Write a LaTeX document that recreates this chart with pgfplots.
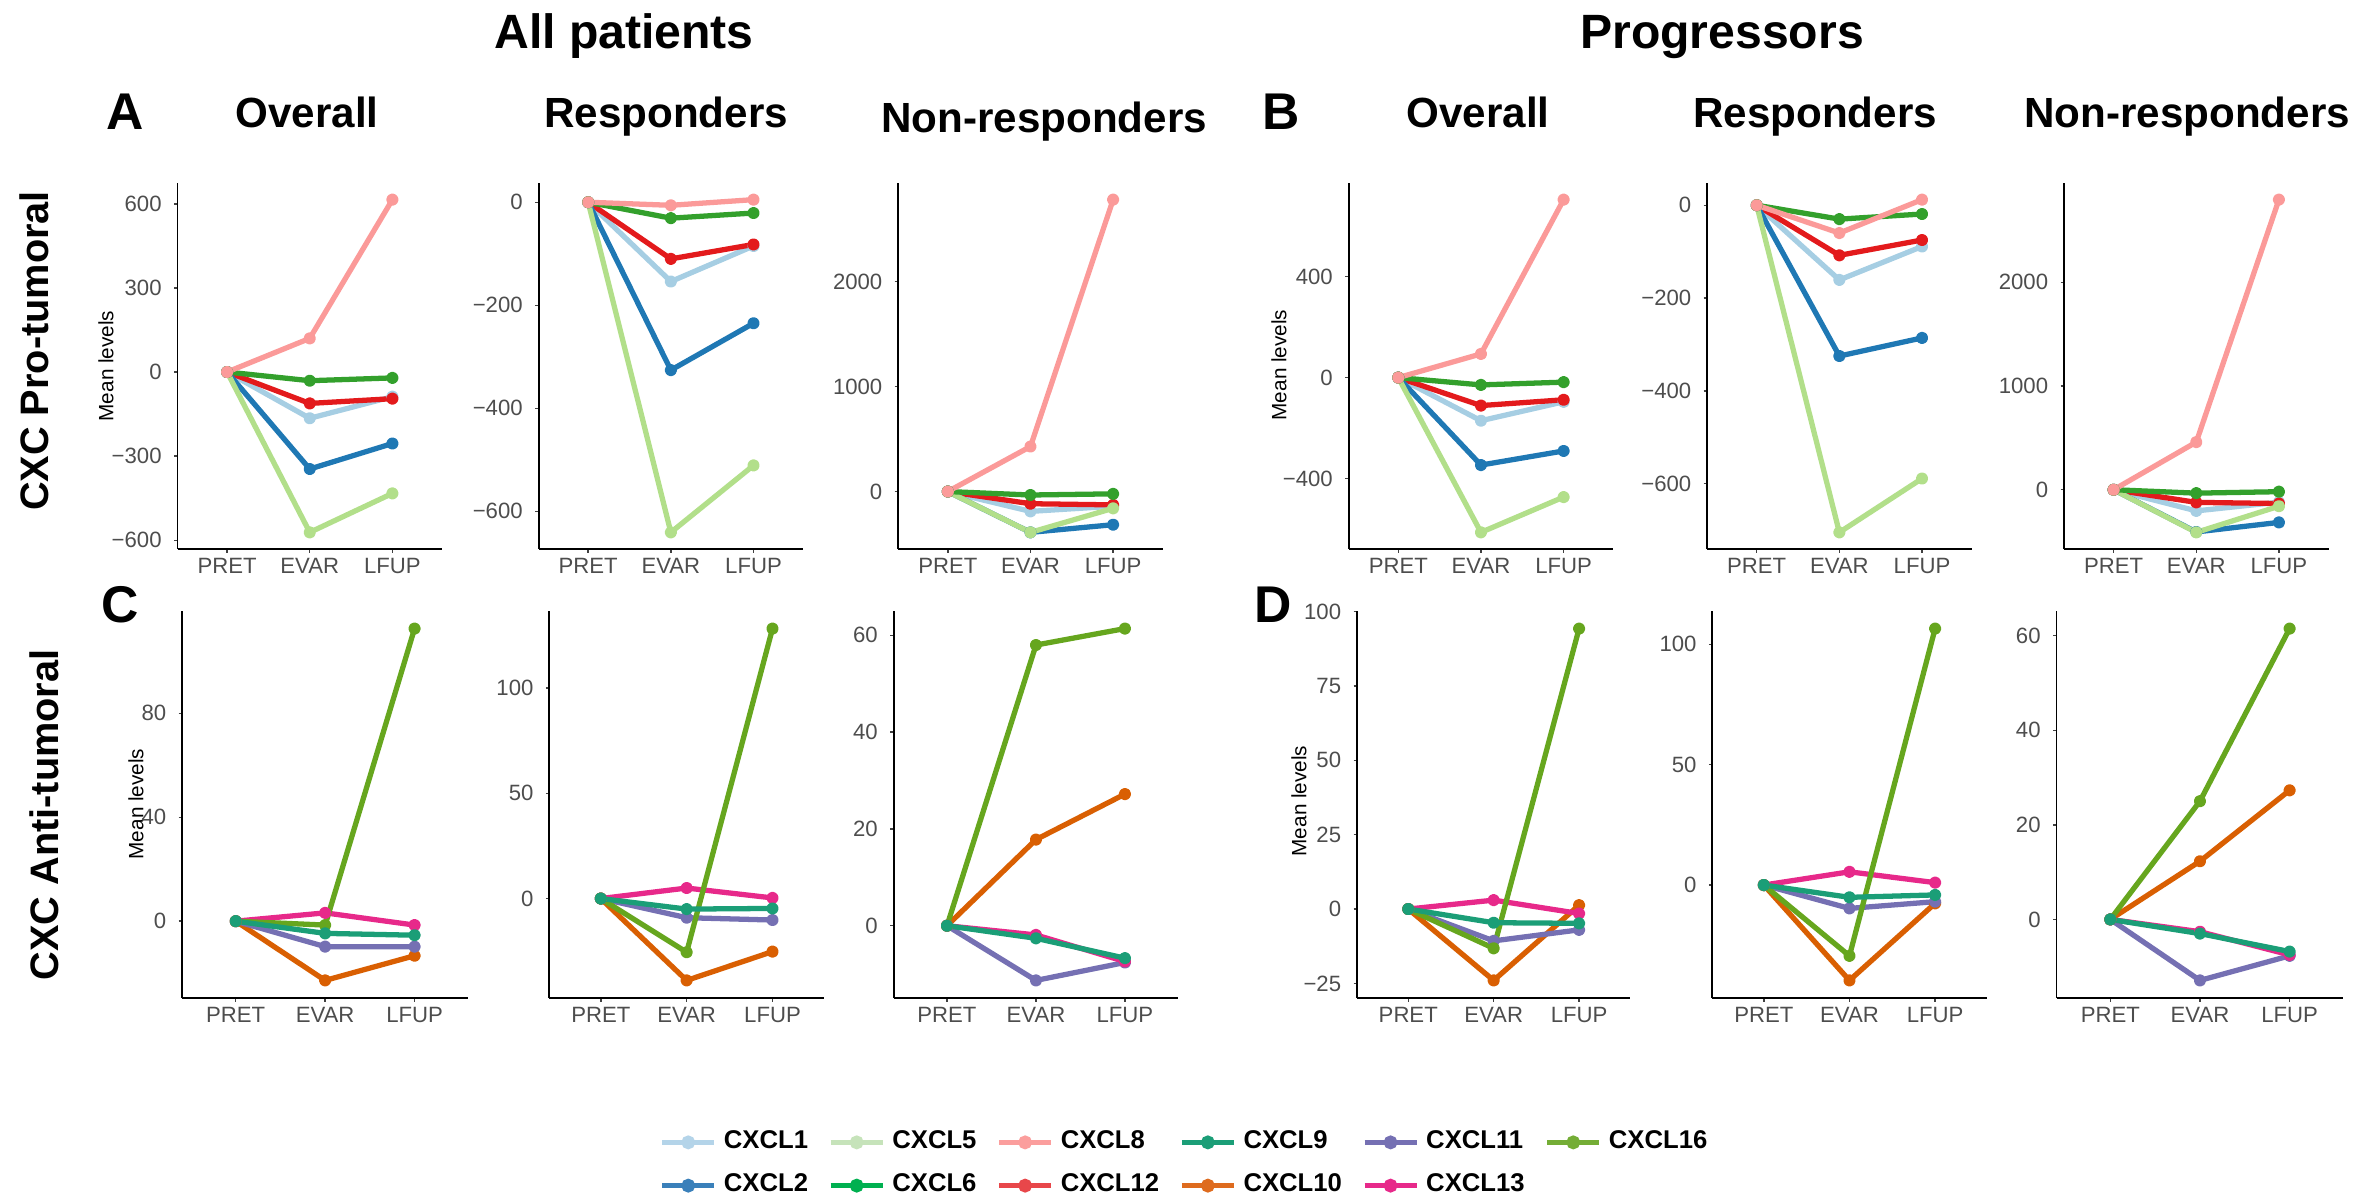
\documentclass[border=0pt]{standalone}
\usepackage{fontspec}
\setmainfont{Liberation Sans}
\usepackage{pgfplots}
\pgfplotsset{compat=1.18}
\usepackage{pgfplotstable}

% plot colours (Paired / Dark2)
\definecolor{c1}{HTML}{A6CEE3}
\definecolor{c2}{HTML}{1F78B4}
\definecolor{c5}{HTML}{B2DF8A}
\definecolor{c6}{HTML}{33A02C}
\definecolor{c8}{HTML}{FB9A99}
\definecolor{c12}{HTML}{E31A1C}
\definecolor{c9}{HTML}{1B9E77}
\definecolor{c10}{HTML}{D95F02}
\definecolor{c11}{HTML}{7570B3}
\definecolor{c13}{HTML}{E7298A}
\definecolor{c16}{HTML}{66A61E}
% legend colours
\definecolor{L1}{HTML}{B4D4E9}
\definecolor{L2}{HTML}{3A80BA}
\definecolor{L5}{HTML}{C6E3BA}
\definecolor{L6}{HTML}{00B050}
\definecolor{L8}{HTML}{FB9E9D}
\definecolor{L12}{HTML}{E8474A}
\definecolor{L9}{HTML}{1B9E77}
\definecolor{L10}{HTML}{DE6B1E}
\definecolor{L11}{HTML}{7570B3}
\definecolor{L13}{HTML}{E7298A}
\definecolor{L16}{HTML}{74AD36}
\definecolor{tickgray}{HTML}{4D4D4D}

\newcommand\tickfont{\fontsize{6.3}{7}\selectfont}

% pro-tumoral panels: CXCL1 CXCL12 CXCL2 CXCL5 CXCL6 CXCL8
\pgfplotstableread{
x c1 c12 c2 c5 c6 c8
1 0 0 0 0 0 0
2 -165 -112 -346 -572 -31 120
3 -88 -95 -255 -433 -21 615
}\tA
\pgfplotstableread{
x c1 c12 c2 c5 c6 c8
1 0 0 0 0 0 0
2 -154 -110 -326 -641 -31 -6
3 -85 -82 -235 -511 -21 5
}\tAr
\pgfplotstableread{
x c1 c12 c2 c5 c6 c8
1 0 0 0 0 0 0
2 -189 -116 -389 -389 -33 429
3 -140 -127 -316 -160 -22 2782
}\tAn
\pgfplotstableread{
x c1 c12 c2 c5 c6 c8
1 0 0 0 0 0 0
2 -171 -111 -347 -614 -29 94
3 -96 -88 -291 -474 -18 706
}\tB
\pgfplotstableread{
x c1 c12 c2 c5 c6 c8
1 0 0 0 0 0 0
2 -161 -108 -325 -705 -30 -60
3 -89 -75 -286 -589 -19 12
}\tBr
\pgfplotstableread{
x c1 c12 c2 c5 c6 c8
1 0 0 0 0 0 0
2 -204 -122 -407 -411 -33 459
3 -120 -133 -315 -159 -19 2796
}\tBn
% anti-tumoral panels: CXCL10 CXCL11 CXCL13 CXCL16 CXCL9
\pgfplotstableread{
x c10 c11 c13 c16 c9
1 0 0 0 0 0
2 -22.8 -9.8 3.2 -1.5 -4.7
3 -13.3 -9.8 -1.5 112.6 -5.4
}\tC
\pgfplotstableread{
x c10 c11 c13 c16 c9
1 0 0 0 0 0
2 -38.9 -9.1 5.0 -25.5 -5.0
3 -25.2 -10.2 0.3 128.3 -4.7
}\tCr
\pgfplotstableread{
x c10 c11 c13 c16 c9
1 0 0 0 0 0
2 17.8 -11.3 -1.9 58.0 -2.6
3 27.2 -7.6 -7.4 61.4 -6.7
}\tCn
\pgfplotstableread{
x c10 c11 c13 c16 c9
1 0 0 0 0 0
2 -24.0 -10.7 3.0 -13.2 -4.6
3 1.3 -7.0 -1.5 94.3 -4.8
}\tD
\pgfplotstableread{
x c10 c11 c13 c16 c9
1 0 0 0 0 0
2 -39.6 -9.7 5.5 -29.4 -5.1
3 -7.6 -6.9 1.0 106.5 -4.1
}\tDr
\pgfplotstableread{
x c10 c11 c13 c16 c9
1 0 0 0 0 0
2 12.3 -12.9 -2.6 25.0 -3.0
3 27.3 -7.7 -7.5 61.5 -6.8
}\tDn

\pgfplotsset{
  panel/.style={
    scale only axis, anchor=south west,
    axis x line=bottom, axis y line=left,
    axis line style={-, black, line width=0.55pt},
    xmin=0.4, xmax=3.6,
    xtick={1,2,3}, xticklabels={PRET,EVAR,LFUP},
    enlarge y limits=0.05,
    tick align=outside, major tick length=0.35mm,
    every tick/.style={black!75, line width=0.4pt},
    ticklabel style={font=\tickfont, text=tickgray},
    xticklabel style={yshift=0.7mm},
    clip=false,
  },
  row1/.style={panel, width=26.45mm, height=36.6mm},
  row2/.style={panel, height=38.7mm},
  ser/.style={color=#1, line width=1.5pt, line join=round, mark=*, mark size=1.0pt, mark options={solid}},
}

\newcommand\pro[1]{%
  \addplot[ser=c1] table[x=x,y=c1]{#1};
  \addplot[ser=c12] table[x=x,y=c12]{#1};
  \addplot[ser=c2] table[x=x,y=c2]{#1};
  \addplot[ser=c5] table[x=x,y=c5]{#1};
  \addplot[ser=c6] table[x=x,y=c6]{#1};
  \addplot[ser=c8] table[x=x,y=c8]{#1};
}
\newcommand\anti[1]{%
  \addplot[ser=c10] table[x=x,y=c10]{#1};
  \addplot[ser=c11] table[x=x,y=c11]{#1};
  \addplot[ser=c13] table[x=x,y=c13]{#1};
  \addplot[ser=c16] table[x=x,y=c16]{#1};
  \addplot[ser=c9] table[x=x,y=c9]{#1};
}

\begin{document}
\begin{tikzpicture}
\useasboundingbox (0,0) rectangle (236.1mm,120mm);

% headings
\node[anchor=base, font=\fontsize{13.7}{15}\selectfont\bfseries] at (62.4mm,115.1mm) {All patients};
\node[anchor=base, font=\fontsize{13.7}{15}\selectfont\bfseries] at (172.2mm,115.1mm) {Progressors};
\foreach \xx/\tt/\dy in {30.7/Overall/0, 66.6/Responders/0, 104.4/Non-responders/0.5, 147.8/Overall/0, 181.5/Responders/0, 218.7/Non-responders/0}
  \node[anchor=base, font=\fontsize{12}{14}\selectfont\bfseries] at (\xx mm,107.2mm-\dy mm) {\tt};
\foreach \xx/\yy/\tt in {12.5/108.8/A, 128.1/108.8/B, 12.0/59.5/C, 127.3/59.5/D}
  \node[font=\fontsize{14.7}{16}\selectfont\bfseries] at (\xx mm,\yy mm) {\tt};
\node[rotate=90, font=\fontsize{11.3}{13}\selectfont\bfseries] at (3.4mm,84.9mm) {CXC Pro-tumoral};
\node[rotate=90, font=\fontsize{11.3}{13}\selectfont\bfseries] at (4.4mm,38.5mm) {CXC Anti-tumoral};
\foreach \xx/\yy in {10.6/83.4, 13.6/39.6, 127.9/83.5, 129.9/39.9}
  \node[rotate=90, font=\fontsize{5.9}{7}\selectfont] at (\xx mm,\yy mm) {Mean levels};

% row 1: pro-tumoral
\begin{axis}[row1, at={(17.75mm,65.1mm)}, ytick={-600,-300,0,300,600}, yticklabels={−600,−300,0,300,600}]
\pro{\tA}
\end{axis}
\begin{axis}[row1, at={(53.86mm,65.1mm)}, ytick={-600,-400,-200,0}, yticklabels={−600,−400,−200,0}]
\pro{\tAr}
\end{axis}
\begin{axis}[row1, at={(89.82mm,65.1mm)}, ytick={0,1000,2000}, yticklabels={0,1000,2000}]
\pro{\tAn}
\end{axis}
\begin{axis}[row1, at={(134.87mm,65.1mm)}, ytick={-400,0,400}, yticklabels={−400,0,400}]
\pro{\tB}
\end{axis}
\begin{axis}[row1, at={(170.71mm,65.1mm)}, ytick={-600,-400,-200,0}, yticklabels={−600,−400,−200,0}]
\pro{\tBr}
\end{axis}
\begin{axis}[row1, at={(206.40mm,65.1mm)}, ytick={0,1000,2000}, yticklabels={0,1000,2000}]
\pro{\tBn}
\end{axis}

% row 2: anti-tumoral
\begin{axis}[row2, width=28.61mm, at={(18.21mm,20.2mm)}, ytick={0,40,80}, yticklabels={0,40,80}]
\anti{\tC}
\end{axis}
\begin{axis}[row2, width=27.47mm, at={(54.93mm,20.2mm)}, ytick={0,50,100}, yticklabels={0,50,100}]
\anti{\tCr}
\end{axis}
\begin{axis}[row2, width=28.47mm, at={(89.36mm,20.2mm)}, ytick={0,20,40,60}, yticklabels={0,20,40,60}]
\anti{\tCn}
\end{axis}
\begin{axis}[row2, width=27.33mm, at={(135.70mm,20.2mm)}, ytick={-25,0,25,50,75,100}, yticklabels={−25,0,25,50,75,100}]
\anti{\tD}
\end{axis}
\begin{axis}[row2, width=27.41mm, at={(171.24mm,20.2mm)}, ytick={0,50,100}, yticklabels={0,50,100}]
\anti{\tDr}
\end{axis}
\begin{axis}[row2, width=28.69mm, at={(205.65mm,20.2mm)}, ytick={0,20,40,60}, yticklabels={0,20,40,60}]
\anti{\tDn}
\end{axis}

% legend
\begin{axis}[hide axis, scale only axis, width=1cm, height=0.5cm,
  xmin=0, xmax=1, ymin=0, ymax=1,
  at={(118.7mm,3.6mm)}, anchor=center,
  legend columns=6,
  legend cell align=left,
  legend style={at={(0.5,0.5)}, anchor=center, draw=none, fill=none,
    font=\fontsize{7.3}{8.5}\selectfont\bfseries,
    row sep=0.6mm,
    /tikz/every even column/.append style={column sep=1.3mm}},
  legend image code/.code={\draw[mark repeat=2, mark phase=2, #1] plot coordinates {(0mm,0mm) (2.6mm,0mm) (5.2mm,0mm)};},
]
\addlegendimage{color=L1, line width=1.5pt, mark=*, mark size=1.2pt}\addlegendentry{CXCL1}
\addlegendimage{color=L5, line width=1.5pt, mark=*, mark size=1.2pt}\addlegendentry{CXCL5}
\addlegendimage{color=L8, line width=1.5pt, mark=*, mark size=1.2pt}\addlegendentry{CXCL8}
\addlegendimage{color=L9, line width=1.5pt, mark=*, mark size=1.2pt}\addlegendentry{CXCL9}
\addlegendimage{color=L11, line width=1.5pt, mark=*, mark size=1.2pt}\addlegendentry{CXCL11}
\addlegendimage{color=L16, line width=1.5pt, mark=*, mark size=1.2pt}\addlegendentry{CXCL16}
\addlegendimage{color=L2, line width=1.5pt, mark=*, mark size=1.2pt}\addlegendentry{CXCL2}
\addlegendimage{color=L6, line width=1.5pt, mark=*, mark size=1.2pt}\addlegendentry{CXCL6}
\addlegendimage{color=L12, line width=1.5pt, mark=*, mark size=1.2pt}\addlegendentry{CXCL12}
\addlegendimage{color=L10, line width=1.5pt, mark=*, mark size=1.2pt}\addlegendentry{CXCL10}
\addlegendimage{color=L13, line width=1.5pt, mark=*, mark size=1.2pt}\addlegendentry{CXCL13}
\end{axis}
\end{tikzpicture}
\end{document}
